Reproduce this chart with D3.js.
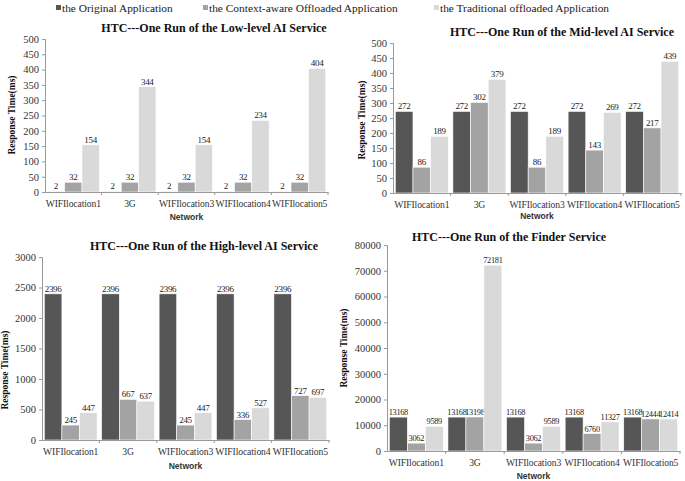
<!DOCTYPE html>
<html><head><meta charset="utf-8">
<script src="https://cdn.jsdelivr.net/npm/d3@7"></script>
<style>
body{margin:0;background:#fff;}
svg{display:block;}
text{font-family:"Liberation Serif","Times New Roman",serif;}
</style></head>
<body><svg id="c" width="685" height="481"></svg>
<script>
const categories = ["WIFIlocation1","3G","WIFIlocation3","WIFIlocation4","WIFIlocation5"];
const seriesNames = ["the Original Application","the Context-aware Offloaded Application","the Traditional offloaded Application"];
const seriesColors = ["#565656","#a3a3a3","#d9d9d9"];

const lowOriginal = [2,2,2,2,2];
const lowContext = [32,32,32,32,32];
const lowTraditional = [154,344,154,234,404];
const lowTicks = [0,50,100,150,200,250,300,350,400,450,500];

const midOriginal = [272,272,272,272,272];
const midContext = [86,302,86,143,217];
const midTraditional = [189,379,189,269,439];
const midTicks = [0,50,100,150,200,250,300,350,400,450,500];

const highOriginal = [2396,2396,2396,2396,2396];
const highContext = [245,667,245,336,727];
const highTraditional = [447,637,447,527,697];
const highTicks = [0,500,1000,1500,2000,2500,3000];

const finderOriginal = [13168,13168,13168,13168,13168];
const finderContext = [3062,13198,3062,6760,12444];
const finderTraditional = [9589,72181,9589,11327,12414];
const finderTicks = [0,10000,20000,30000,40000,50000,60000,70000,80000];

const titles = ["HTC---One Run of  the Low-level AI Service","HTC---One Run of  the Mid-level AI Service",
  "HTC---One Run of  the  High-level AI Service","HTC---One Run of  the Finder Service"];

const svg = d3.select("#c");

// legend
const legendX = [56,203,434];
seriesNames.forEach((n,i)=>{
  svg.append("rect").attr("x",legendX[i]).attr("y",5).attr("width",5).attr("height",5).attr("fill",seriesColors[i]);
  svg.append("text").attr("x",legendX[i]+6).attr("y",11.5).attr("font-size",11.4).attr("fill","#222").text(n);
});

const panels = [
  {title:titles[0], data:[lowOriginal,lowContext,lowTraditional], ticks:lowTicks, x0:45, x1:328, y0:192, y1:39,
   tx:214, ty:32, ylx:15, yly:115, netY:220, vfs:9},
  {title:titles[1], data:[midOriginal,midContext,midTraditional], ticks:midTicks, x0:393, x1:681, y0:193, y1:43,
   tx:562, ty:36, ylx:365, yly:120, netY:219, vfs:9},
  {title:titles[2], data:[highOriginal,highContext,highTraditional], ticks:highTicks, x0:42, x1:329, y0:440, y1:257,
   tx:204, ty:250, ylx:8, yly:370, netY:469, vfs:9},
  {title:titles[3], data:[finderOriginal,finderContext,finderTraditional], ticks:finderTicks, x0:387, x1:680, y0:451, y1:245,
   tx:509, ty:241, ylx:347, yly:348, netY:479, vfs:8.3}
];

panels.forEach(p=>{
  const g = svg.append("g");
  const x = d3.scaleBand().domain(categories).range([p.x0,p.x1]).paddingInner(0.08).paddingOuter(0.04);
  const xs = d3.scaleBand().domain(d3.range(3)).range([0,x.bandwidth()]).padding(0);
  const y = d3.scaleLinear().domain([p.ticks[0],p.ticks[p.ticks.length-1]]).range([p.y0,p.y1]);

  // bars
  p.data.forEach((arr,si)=>{
    g.selectAll(null).data(arr).enter().append("rect")
      .attr("x",(d,i)=>x(categories[i])+xs(si))
      .attr("y",d=>y(d))
      .attr("width",xs.bandwidth())
      .attr("height",d=>y(0)-y(d))
      .attr("fill",seriesColors[si])
      .attr("stroke","#fff").attr("stroke-width",0.6);
    g.selectAll(null).data(arr).enter().append("text")
      .attr("x",(d,i)=>x(categories[i])+xs(si)+xs.bandwidth()/2)
      .attr("y",d=>y(d)-2)
      .attr("text-anchor","middle").attr("font-size",p.vfs).attr("fill","#222")
      .attr("letter-spacing",-0.3)
      .text(d=>d);
  });

  // y axis
  const ya = d3.axisLeft(y).tickValues(p.ticks).tickSize(3).tickPadding(3).tickFormat(d3.format("d"));
  const yg = g.append("g").attr("transform",`translate(${p.x0},0)`).call(ya);
  yg.select(".domain").attr("stroke","#999");
  yg.selectAll(".tick line").attr("stroke","#999");
  yg.selectAll(".tick text").attr("font-size",10.5).attr("fill","#333").attr("font-family","Liberation Serif");

  // x axis
  const xa = d3.axisBottom(x).tickSize(0).tickPadding(8);
  const xg = g.append("g").attr("transform",`translate(0,${p.y0})`).call(xa);
  xg.select(".domain").attr("stroke","#999");
  xg.selectAll(".tick text").attr("font-size",9.6).attr("fill","#333").attr("font-family","Liberation Serif")
    .attr("letter-spacing",-0.1);
  // separators between categories
  const bounds = categories.map(c=>x(c)-x.step()*x.paddingInner()/2).slice(1).concat([p.x1]);
  g.selectAll(null).data(bounds).enter().append("line")
    .attr("x1",d=>d).attr("x2",d=>d).attr("y1",p.y0).attr("y2",p.y0+3).attr("stroke","#999");

  // title
  g.append("text").attr("x",p.tx).attr("y",p.ty).attr("text-anchor","middle")
    .attr("font-size",12).attr("font-weight","bold").attr("fill","#111").text(p.title);
  // axis titles
  g.append("text").attr("transform",`translate(${p.ylx},${p.yly}) rotate(-90)`).attr("text-anchor","middle")
    .attr("font-size",9.5).attr("font-weight","bold").attr("fill","#111").text("Response Time(ms)");
  g.append("text").attr("x",(p.x0+p.x1)/2).attr("y",p.netY).attr("text-anchor","middle")
    .style("font-family","'Liberation Sans',Arial,sans-serif")
    .attr("font-size",8.5).attr("font-weight","bold").attr("fill","#333").text("Network");
});
</script></body></html>
